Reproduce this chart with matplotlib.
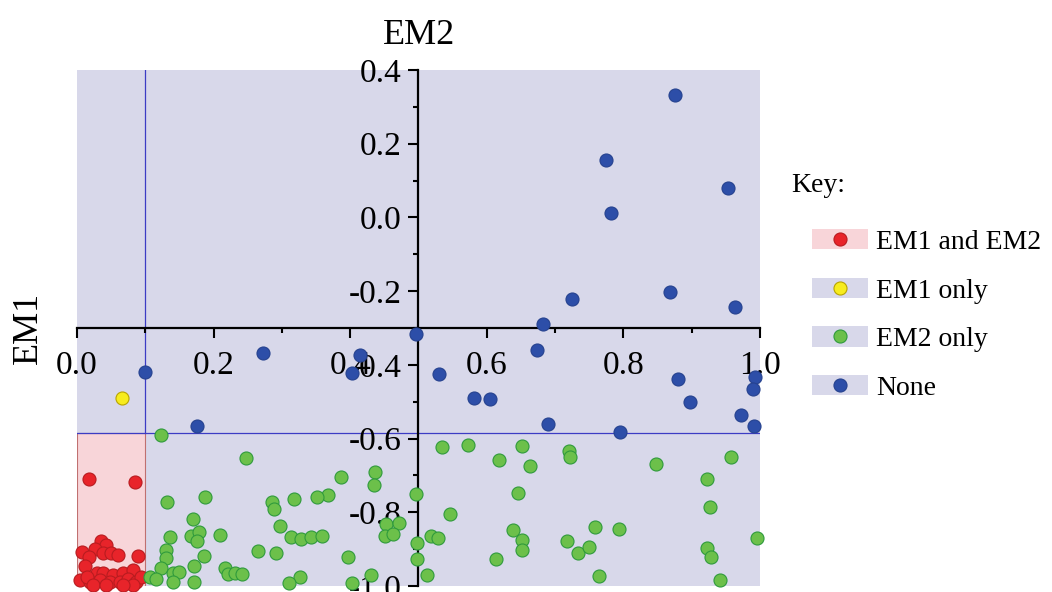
import matplotlib.pyplot as plt
from matplotlib.patches import Patch, Rectangle
from matplotlib.lines import Line2D
from matplotlib.legend_handler import HandlerTuple
from matplotlib.ticker import MultipleLocator, FormatStrFormatter

plt.rcParams['font.family'] = ['Liberation Serif', 'DejaVu Serif']

# points (x = EM1 axis, y = EM2 axis)
red_x = [0.0175, 0.085, 0.035, 0.042, 0.026, 0.038, 0.050, 0.060, 0.090, 0.007,
         0.017, 0.012, 0.029, 0.038, 0.053, 0.068, 0.082, 0.004, 0.019, 0.034,
         0.048, 0.063, 0.075, 0.087, 0.094, 0.014, 0.024, 0.043, 0.082, 0.068]
red_y = [-0.710, -0.718, -0.879, -0.888, -0.899, -0.911, -0.911, -0.916, -0.918, -0.909,
         -0.920, -0.947, -0.965, -0.964, -0.970, -0.965, -0.956, -0.984, -0.988, -0.984,
         -0.988, -0.988, -0.982, -0.988, -0.975, -0.975, -0.997, -0.997, -0.997, -0.997]

yellow_x = [0.066]
yellow_y = [-0.489]

blue_x = [0.876, 0.774, 0.953, 0.782, 0.725, 0.868, 0.963, 0.682, 0.497, 0.674,
          0.272, 0.415, 0.403, 0.099, 0.530, 0.880, 0.993, 0.990, 0.581, 0.605,
          0.897, 0.972, 0.175, 0.690, 0.991, 0.795]
blue_y = [0.331, 0.155, 0.079, 0.011, -0.222, -0.202, -0.243, -0.289, -0.315, -0.359,
          -0.368, -0.374, -0.421, -0.418, -0.426, -0.437, -0.434, -0.466, -0.490, -0.492,
          -0.500, -0.537, -0.567, -0.561, -0.567, -0.582]

green_x = [0.123, 0.248, 0.132, 0.187, 0.286, 0.288, 0.170, 0.136, 0.167, 0.179,
           0.176, 0.210, 0.131, 0.130, 0.186, 0.265, 0.123, 0.107, 0.115, 0.140,
           0.149, 0.141, 0.172, 0.172, 0.216, 0.221, 0.231, 0.242,
           0.535, 0.387, 0.437, 0.435, 0.496, 0.367, 0.352, 0.318, 0.546, 0.297,
           0.453, 0.472, 0.313, 0.328, 0.343, 0.359, 0.451, 0.462, 0.518, 0.528,
           0.498, 0.291, 0.397, 0.498, 0.327, 0.310, 0.431, 0.403, 0.513,
           0.572, 0.652, 0.720, 0.722, 0.618, 0.664, 0.645, 0.639, 0.651, 0.651,
           0.759, 0.717, 0.733, 0.749, 0.613, 0.765,
           0.848, 0.958, 0.922, 0.927, 0.794, 0.995, 0.922, 0.929, 0.941]
green_y = [-0.590, -0.653, -0.773, -0.759, -0.773, -0.791, -0.819, -0.866, -0.863, -0.854,
           -0.879, -0.861, -0.902, -0.923, -0.918, -0.904, -0.952, -0.976, -0.982, -0.966,
           -0.961, -0.988, -0.945, -0.988, -0.952, -0.967, -0.964, -0.967,
           -0.623, -0.705, -0.691, -0.725, -0.750, -0.752, -0.759, -0.764, -0.805, -0.837,
           -0.832, -0.830, -0.866, -0.873, -0.866, -0.863, -0.864, -0.859, -0.864, -0.870,
           -0.884, -0.911, -0.920, -0.927, -0.975, -0.993, -0.970, -0.993, -0.971,
           -0.618, -0.621, -0.634, -0.651, -0.657, -0.675, -0.748, -0.848, -0.875, -0.902,
           -0.840, -0.879, -0.911, -0.895, -0.927, -0.974,
           -0.668, -0.651, -0.710, -0.786, -0.845, -0.870, -0.896, -0.920, -0.984]

em1_cut = 0.1
em2_cut = -0.585

key_labels = ['EM1 and EM2', 'EM1 only', 'EM2 only', 'None']

lavender = '#d8d8ea'
pink = '#f8d5d9'
line_col = '#3c3cc4'
fills = ['#e8242a', '#f7ec1e', '#6cc04a', '#2d4ea8']
edges = ['#b81c20', '#b8a400', '#2f9a3c', '#26428f']

fig = plt.figure(figsize=(10.52, 5.92), dpi=100)
ax = fig.add_axes([0.0732, 0.0101, 0.6492, 0.8716])
ax.set_xlim(0, 1)
ax.set_ylim(-1.0, 0.4)
ax.set_facecolor(lavender)

# pink "both" region and threshold lines
ax.add_patch(Rectangle((0, -1.0), em1_cut, em2_cut + 1.0, facecolor=pink,
                       edgecolor='#c07070', linewidth=0.8, zorder=1))
ax.axhline(em2_cut, color=line_col, linewidth=0.9, zorder=1.5)
ax.plot([em1_cut, em1_cut], [em2_cut, 0.4], color=line_col, linewidth=0.9, zorder=1.5)

ms = 88
for xs, ys, fc, ec in [(red_x, red_y, fills[0], edges[0]),
                       (yellow_x, yellow_y, fills[1], edges[1]),
                       (green_x, green_y, fills[2], edges[2]),
                       (blue_x, blue_y, fills[3], edges[3])]:
    ax.scatter(xs, ys, s=ms, facecolor=fc, edgecolor=ec, linewidth=0.8,
               zorder=3, clip_on=False)

# axes crossing inside the plot
for s in ['top', 'right']:
    ax.spines[s].set_visible(False)
ax.spines['left'].set_position(('data', 0.5))
ax.spines['bottom'].set_position(('data', -0.3))
ax.spines['left'].set_linewidth(1.6)
ax.spines['bottom'].set_linewidth(1.6)
ax.spines['left'].set_zorder(2.5)

ax.xaxis.set_major_locator(MultipleLocator(0.2))
ax.xaxis.set_minor_locator(MultipleLocator(0.1))
ax.yaxis.set_major_locator(MultipleLocator(0.2))
ax.yaxis.set_minor_locator(MultipleLocator(0.1))
ax.xaxis.set_major_formatter(FormatStrFormatter('%.1f'))
ax.yaxis.set_major_formatter(FormatStrFormatter('%.1f'))
ax.tick_params(which='major', length=7, width=1.5, labelsize=24, direction='out')
ax.tick_params(which='minor', length=3.5, width=1.5, direction='out')
ax.tick_params(axis='x', which='major', pad=9)
ax.tick_params(axis='y', which='major', pad=5)

fig.text(0.398, 0.94, 'EM2', fontsize=26, ha='center', va='center')
fig.text(0.027, 0.446, 'EM1', fontsize=26, rotation=90, ha='center', va='center')

# key
fig.text(0.752, 0.687, 'Key:', fontsize=20, ha='left', va='center')
handles = []
for i in range(4):
    bg = pink if i == 0 else lavender
    handles.append((Patch(facecolor=bg, edgecolor='none'),
                    Line2D([], [], marker='o', linestyle='none', markersize=9.4,
                           markerfacecolor=fills[i], markeredgecolor=edges[i],
                           markeredgewidth=0.8)))
fig.legend(handles, key_labels, handler_map={tuple: HandlerTuple(ndivide=1)},
           loc='upper left', bbox_to_anchor=(0.772, 0.613), frameon=False,
           fontsize=20, handlelength=2.0, handleheight=0.75, handletextpad=0.3,
           labelspacing=0.82, borderaxespad=0, borderpad=0)

fig.savefig('out.png', dpi=100)
